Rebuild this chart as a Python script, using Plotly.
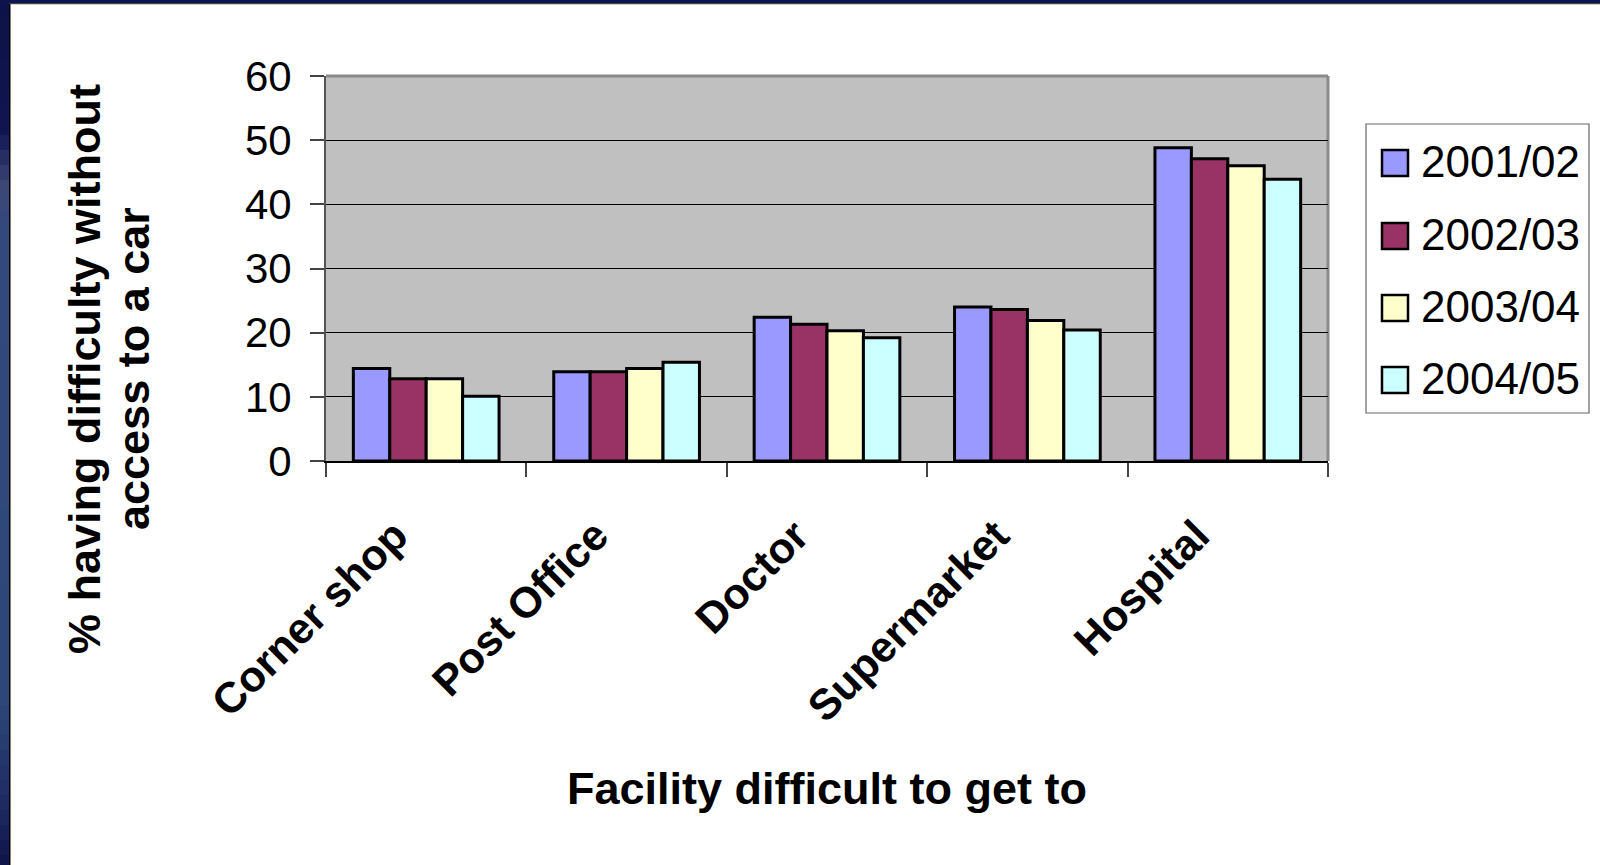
import plotly.graph_objects as go

categories = ["Corner shop", "Post Office", "Doctor", "Supermarket", "Hospital"]
series_names = ["2001/02", "2002/03", "2003/04", "2004/05"]
v_2001_02 = [14.4, 13.9, 22.4, 24.0, 48.8]
v_2002_03 = [12.8, 13.9, 21.3, 23.6, 47.1]
v_2003_04 = [12.8, 14.4, 20.3, 21.9, 46.0]
v_2004_05 = [10.1, 15.4, 19.2, 20.4, 43.9]
y_ticks = [0, 10, 20, 30, 40, 50, 60]
x_title = "Facility difficult to get to"
y_title_lines = ["% having difficulty without", "access to a car"]

series_values = [v_2001_02, v_2002_03, v_2003_04, v_2004_05]
colors = ["#9999FF", "#993366", "#FFFFCC", "#CCFFFF"]

W, H = 1600, 865
L, R, T, B = 326, 272, 76, 404
PW, PH = W - L - R, H - T - B


def px(x):
    return (x - L) / PW


def py(y):
    return (H - B - y) / PH


FONT = "Liberation Sans, Arial, sans-serif"

fig = go.Figure()
for name, vals, col in zip(series_names, series_values, colors):
    fig.add_trace(go.Bar(
        x=categories, y=vals, name=name,
        marker=dict(color=col, line=dict(color="#000000", width=3)),
        showlegend=False,
    ))

shapes = []
# top / right gray plot border
shapes.append(dict(type="line", xref="paper", yref="paper", x0=0, x1=1, y0=1, y1=1,
                   line=dict(color="#8a8a8a", width=3), layer="below"))
shapes.append(dict(type="line", xref="paper", yref="paper", x0=1, x1=1, y0=0, y1=1,
                   line=dict(color="#8a8a8a", width=3), layer="below"))

# dark slide frame: left gradient strip and top strip
stops = [(0, (13, 18, 72)), (130, (16, 21, 80)), (185, (61, 70, 119)), (230, (51, 73, 124)),
         (700, (45, 71, 120)), (800, (30, 44, 99)), (865, (15, 20, 72))]


def col_at(y):
    for (y0, c0), (y1, c1) in zip(stops[:-1], stops[1:]):
        if y0 <= y <= y1:
            t = (y - y0) / (y1 - y0) if y1 > y0 else 0
            c = [round(a + (b - a) * t) for a, b in zip(c0, c1)]
            return "rgb(%d,%d,%d)" % tuple(c)
    return "rgb(15,20,72)"


step = 15
for y0 in range(0, H, step):
    y1 = min(H, y0 + step)
    shapes.append(dict(type="rect", xref="paper", yref="paper", x0=px(0), x1=px(9),
                       y0=py(y1), y1=py(y0), fillcolor=col_at((y0 + y1) / 2),
                       line=dict(width=0), layer="above"))
shapes.append(dict(type="rect", xref="paper", yref="paper", x0=px(9), x1=px(10.5),
                   y0=py(H), y1=py(3), fillcolor="#000000", line=dict(width=0), layer="above"))
shapes.append(dict(type="rect", xref="paper", yref="paper", x0=px(0), x1=px(W),
                   y0=py(3), y1=py(0), fillcolor="#0f1450", line=dict(width=0), layer="above"))
shapes.append(dict(type="rect", xref="paper", yref="paper", x0=px(9), x1=px(W),
                   y0=py(4.2), y1=py(3), fillcolor="#444444", line=dict(width=0), layer="above"))

# legend box
lx0, lx1, ly0, ly1 = 1366, 1589, 124, 413
shapes.append(dict(type="rect", xref="paper", yref="paper", x0=px(lx0), x1=px(lx1),
                   y0=py(ly1), y1=py(ly0), fillcolor="#ffffff",
                   line=dict(color="#666666", width=1.2), layer="above"))
annotations = []
item_y = [163, 236, 308, 380]
for name, col, cy in zip(series_names, colors, item_y):
    shapes.append(dict(type="rect", xref="paper", yref="paper", x0=px(1382), x1=px(1408),
                       y0=py(cy + 13), y1=py(cy - 13), fillcolor=col,
                       line=dict(color="#000000", width=2.5), layer="above"))
    annotations.append(dict(x=px(1419), y=py(cy - 2), xref="paper", yref="paper", text=name,
                            showarrow=False, xanchor="left", yanchor="middle",
                            font=dict(family=FONT, size=44, color="#000000")))

annotations.append(dict(x=0.5, y=py(789), xref="paper", yref="paper", text=x_title,
                        showarrow=False, xanchor="center", yanchor="middle",
                        font=dict(family=FONT, size=45, color="#000000", weight="bold")))
for line_text, cx in zip(y_title_lines, [84, 133]):
    annotations.append(dict(x=px(cx), y=py(369), xref="paper", yref="paper", text=line_text,
                            showarrow=False, xanchor="center", yanchor="middle", textangle=-90,
                            font=dict(family=FONT, size=45, color="#000000", weight="bold")))

fig.update_layout(
    width=W, height=H,
    margin=dict(l=L, r=R, t=T, b=B, autoexpand=False),
    paper_bgcolor="#ffffff", plot_bgcolor="#c0c0c0",
    barmode="group", bargap=0.273, bargroupgap=0,
    showlegend=False,
    shapes=shapes, annotations=annotations,
    font=dict(family=FONT, color="#000000"),
)
fig.update_xaxes(
    type="category", showline=True, linecolor="#000000", linewidth=2,
    ticks="outside", tickson="boundaries", ticklen=14, tickcolor="#444444", tickwidth=1.5,
    tickangle=-45, tickfont=dict(family=FONT, size=43, color="#000000", weight="bold"),
    ticklabelshift=-31, ticklabelstandoff=30,
    showgrid=False, zeroline=False,
)
fig.update_yaxes(
    range=[0, 60], tickvals=y_ticks, showline=True, linecolor="#555555", linewidth=2,
    ticks="outside", ticklen=14, tickcolor="#444444", tickwidth=1.5,
    tickfont=dict(family=FONT, size=42, color="#000000"), ticklabelstandoff=10,
    showgrid=True, gridcolor="#000000", gridwidth=1, zeroline=False,
)

fig.write_html("out.html")
